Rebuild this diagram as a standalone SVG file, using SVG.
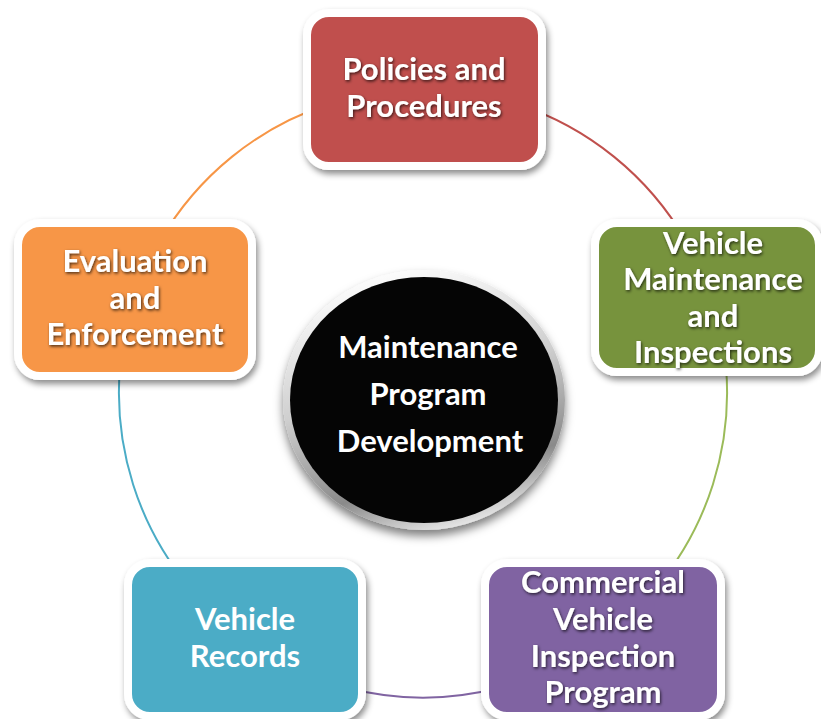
<svg xmlns="http://www.w3.org/2000/svg" width="821" height="719" viewBox="0 0 821 719">
<defs>
<filter id="boxShadow" x="-10%" y="-10%" width="125%" height="130%">
<feDropShadow dx="2" dy="4" stdDeviation="3" flood-color="#000" flood-opacity="0.45"/>
</filter>
<filter id="txtShadow" x="-10%" y="-20%" width="120%" height="150%">
<feDropShadow dx="1" dy="1.5" stdDeviation="1.8" flood-color="#000" flood-opacity="0.7"/>
</filter>
<filter id="circShadow" x="-10%" y="-10%" width="120%" height="130%">
<feDropShadow dx="0" dy="6" stdDeviation="5" flood-color="#000" flood-opacity="0.5"/>
</filter>
<linearGradient id="ring" x1="0.3" y1="0" x2="0.6" y2="1">
<stop offset="0" stop-color="#ffffff"/>
<stop offset="0.45" stop-color="#cfcfcf"/>
<stop offset="0.8" stop-color="#8a8a8a"/>
<stop offset="1" stop-color="#e8e8e8"/>
</linearGradient>
</defs>
<style>
.frame{stroke:#ffffff;stroke-width:8;filter:url(#boxShadow)}
.lbl{font-family:Lato,"Open Sans","Liberation Sans",sans-serif;font-weight:bold;font-size:31px;fill:#ffffff;text-anchor:middle}
.sh{filter:url(#txtShadow)}
.conn{fill:none;stroke-width:2}
</style>
<rect width="821" height="719" fill="#ffffff"/>
<g id="connectors">
<path class="conn" stroke="#F79646" d="M 160 241 A 304 304 0 0 1 329 104"/>
<path class="conn" stroke="#C0504D" d="M 517 104 A 304 304 0 0 1 686 241"/>
<path class="conn" stroke="#9BBB59" d="M 726 367 A 304 304 0 0 1 656 588"/>
<path class="conn" stroke="#8064A2" d="M 502 687 A 304 304 0 0 1 344 687"/>
<path class="conn" stroke="#4BACC6" d="M 190 588 A 304 304 0 0 1 120 367"/>
</g>
<g id="center">
<ellipse cx="424" cy="400" rx="141" ry="130" fill="url(#ring)" filter="url(#circShadow)"/>
<ellipse cx="424" cy="400" rx="134" ry="123" fill="#050505"/>
<text class="lbl" x="428" y="358">Maintenance</text>
<text class="lbl" x="428" y="405">Program</text>
<text class="lbl" x="430" y="452">Development</text>
</g>
<g id="policies">
<rect class="frame" x="307" y="13" width="235" height="153" rx="22" fill="#C0504D"/>
<g class="sh"><text class="lbl" x="424" y="80">Policies and</text>
<text class="lbl" x="424" y="117">Procedures</text></g>
</g>
<g id="maintenance">
<rect class="frame" x="595" y="223" width="224" height="149" rx="22" fill="#77933C"/>
<g class="sh"><text class="lbl" x="713" y="254">Vehicle</text>
<text class="lbl" x="713" y="290">Maintenance</text>
<text class="lbl" x="713" y="327">and</text>
<text class="lbl" x="713" y="363">Inspections</text></g>
</g>
<g id="commercial">
<rect class="frame" x="485" y="563" width="236" height="153" rx="22" fill="#8064A2"/>
<g class="sh"><text class="lbl" x="603" y="593">Commercial</text>
<text class="lbl" x="603" y="630">Vehicle</text>
<text class="lbl" x="603" y="667">Inspection</text>
<text class="lbl" x="603" y="703">Program</text></g>
</g>
<g id="records">
<rect class="frame" x="128" y="563" width="234" height="153" rx="22" fill="#4BACC6"/>
<text class="lbl" x="245" y="630">Vehicle</text>
<text class="lbl" x="245" y="667">Records</text>
</g>
<g id="evaluation">
<rect class="frame" x="18" y="223" width="234" height="153" rx="22" fill="#F79646"/>
<g class="sh"><text class="lbl" x="135" y="272">Evaluation</text>
<text class="lbl" x="135" y="309">and</text>
<text class="lbl" x="135" y="345">Enforcement</text></g>
</g>
</svg>
